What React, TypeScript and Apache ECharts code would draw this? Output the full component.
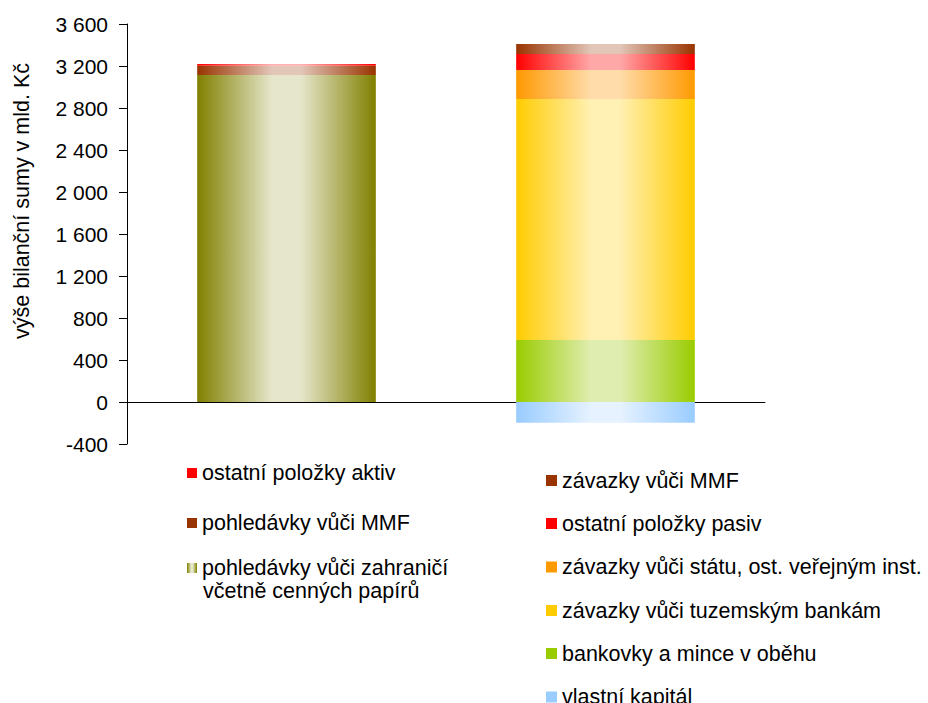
import React, { useEffect, useRef } from "react";
import * as echarts from "echarts";

const categories = ["aktiva", "pasiva"];

const aktivaNames = [
  "pohledávky vůči zahraničí včetně cenných papírů",
  "pohledávky vůči MMF",
  "ostatní položky aktiv",
];
const aktivaValues = [3115, 88, 17];
const aktivaColors = ["#808000", "#993300", "#ff0000"];
const aktivaLight = ["#e6e6cc", "#e2c6b8", "#ffb0b0"];

const pasivaNames = [
  "vlastní kapitál",
  "bankovky a mince v oběhu",
  "závazky vůči tuzemským bankám",
  "závazky vůči státu, ost. veřejným inst.",
  "ostatní položky pasiv",
  "závazky vůči MMF",
];
const pasivaValues = [-197, 590, 2296, 276, 152, 96];
const pasivaColors = ["#99ccff", "#99cc00", "#ffcc00", "#ff9900", "#ff0000", "#993300"];
const pasivaLight = ["#e6f2ff", "#e0edb0", "#fff0b3", "#ffdcaa", "#ffa8a8", "#e2c6b8"];

const yMin = -400;
const yMax = 3600;
const yInterval = 400;
const yAxisTitle = "výše bilanční sumy v mld. Kč";

const FONT = "'Liberation Sans', Arial, sans-serif";
const LEGEND_FS = 21.5;

function grad(edge: string, light: string) {
  return new echarts.graphic.LinearGradient(0, 0, 1, 0, [
    { offset: 0, color: edge },
    { offset: 0.42, color: light },
    { offset: 0.58, color: light },
    { offset: 1, color: edge },
  ]);
}

export default function App() {
  const ref = useRef<HTMLDivElement>(null);
  useEffect(() => {
    if (!ref.current) return;
    const chart = echarts.init(ref.current, null, { renderer: "svg" });

    const series: any[] = [];
    aktivaNames.forEach((n, i) => {
      series.push({
        name: n,
        type: "bar",
        stack: "total",
        barWidth: "56%",
        data: [aktivaValues[i], "-"],
        itemStyle: { color: grad(aktivaColors[i], aktivaLight[i]) },
      });
    });
    pasivaNames.forEach((n, i) => {
      series.push({
        name: n,
        type: "bar",
        stack: "total",
        barWidth: "56%",
        data: ["-", pasivaValues[i]],
        itemStyle: { color: grad(pasivaColors[i], pasivaLight[i]) },
      });
    });

    const legendItem = (
      name: string,
      left: number,
      center: number,
      size: number,
      solid: string | null,
      text?: string
    ) => ({
      orient: "vertical",
      left,
      top: center - 12,
      padding: 0,
      itemWidth: size,
      itemHeight: size,
      itemGap: 0,
      icon: "rect",
      selectedMode: false,
      data: [solid ? { name, itemStyle: { color: solid } } : { name }],
      formatter: text ? () => text : undefined,
      textStyle: { fontSize: LEGEND_FS, fontFamily: FONT, color: "#000", lineHeight: 24, padding: [0, 0, 0, 0] },
    });

    const legends = [
      legendItem(aktivaNames[2], 187, 473, 10, aktivaColors[2]),
      legendItem(aktivaNames[1], 187, 523, 10, aktivaColors[1]),
      legendItem(aktivaNames[0], 187, 568, 10, null, "pohledávky vůči zahraničí"),
      legendItem(pasivaNames[5], 546, 480.5, 11, pasivaColors[5]),
      legendItem(pasivaNames[4], 546, 523.5, 11, pasivaColors[4]),
      legendItem(pasivaNames[3], 546, 567, 11, pasivaColors[3]),
      legendItem(pasivaNames[2], 546, 610.5, 11, pasivaColors[2]),
      legendItem(pasivaNames[1], 546, 653.5, 11, pasivaColors[1]),
      legendItem(pasivaNames[0], 546, 697, 11, pasivaColors[0]),
    ];

    chart.setOption({
      animation: false,
      backgroundColor: "#fff",
      grid: { left: 127, right: 163, top: 24, bottom: 259, containLabel: false },
      legend: legends,
      graphic: [
        {
          type: "text",
          x: 22,
          y: 201,
          rotation: Math.PI / 2,
          style: {
            text: yAxisTitle,
            font: `21.5px ${FONT}`,
            fill: "#000",
            align: "center",
            verticalAlign: "middle",
          },
        },
        {
          type: "text",
          x: 203,
          y: 591,
          style: {
            text: "včetně cenných papírů",
            font: `${LEGEND_FS}px ${FONT}`,
            fill: "#000",
            align: "left",
            verticalAlign: "middle",
          },
        },
      ],
      xAxis: {
        type: "category",
        data: categories,
        axisLine: { onZero: true, lineStyle: { color: "#000", width: 1 } },
        axisTick: { show: false },
        axisLabel: { show: false },
      },
      yAxis: {
        type: "value",
        min: yMin,
        max: yMax,
        interval: yInterval,
        axisLine: { show: true, lineStyle: { color: "#000", width: 1 } },
        axisTick: { show: true, length: 8, lineStyle: { color: "#000" } },
        splitLine: { show: false },
        axisLabel: {
          margin: 19,
          fontSize: 21,
          fontFamily: FONT,
          color: "#000",
          formatter: (v: number) => {
            const s = Math.abs(v).toString().replace(/\B(?=(\d{3})+(?!\d))/g, " ");
            return (v < 0 ? "-" : "") + s;
          },
        },
      },
      series,
    });
    return () => chart.dispose();
  }, []);
  return (
    <div
      ref={ref}
      style={{ position: "fixed", left: 0, top: 0, width: 928, height: 703 }}
    />
  );
}
